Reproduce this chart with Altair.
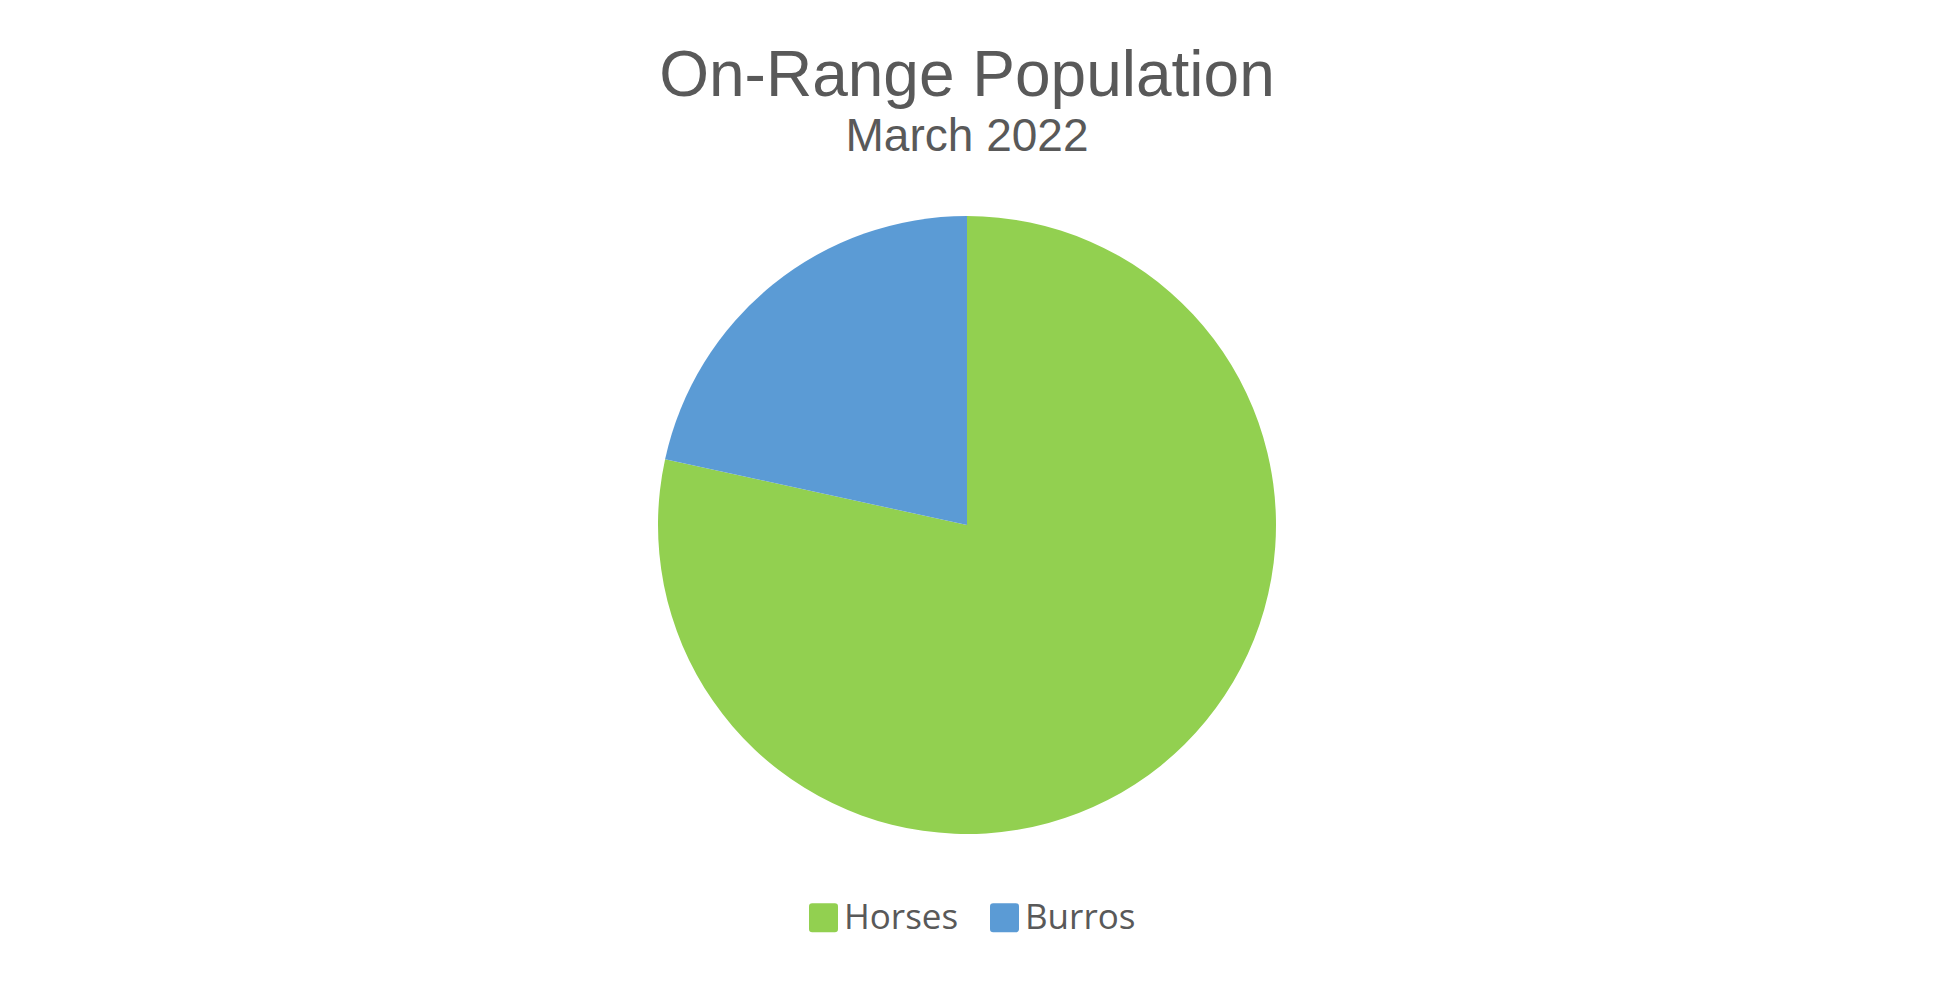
import altair as alt
import pandas as pd

categories = ["Horses", "Burros"]
values = [64604, 17780]
colors = ["#92D050", "#5B9BD5"]

df = pd.DataFrame({"category": categories, "value": values})

rounded_square = ("M -0.78 -1 L 0.78 -1 Q 1 -1 1 -0.78 L 1 0.78 Q 1 1 0.78 1 "
                  "L -0.78 1 Q -1 1 -1 0.78 L -1 -0.78 Q -1 -1 -0.78 -1 Z")

chart = (
    alt.Chart(df)
    .transform_calculate(ord="indexof(['Horses','Burros'], datum.category)")
    .mark_arc(outerRadius=309)
    .encode(
        theta=alt.Theta("value:Q", stack=True),
        order=alt.Order("ord:Q", sort="ascending"),
        color=alt.Color(
            "category:N",
            scale=alt.Scale(domain=categories, range=colors),
            legend=alt.Legend(
                title=None,
                orient="none",
                legendX=790,
                legendY=684,
                direction="horizontal",
                symbolType=rounded_square,
                symbolSize=841,
                symbolStrokeWidth=0,
                labelFont="Open Sans",
                labelFontSize=35,
                labelColor="#595959",
                labelOffset=3,
                columnPadding=28,
            ),
        ),
    )
    .properties(
        width=1902,
        height=618,
        padding={"left": 8, "right": 0, "top": 37, "bottom": 20},
        title=alt.TitleParams(
            text="On-Range Population",
            subtitle="March 2022",
            font="Liberation Sans",
            fontSize=64,
            fontWeight="normal",
            color="#595959",
            subtitleFont="Liberation Sans",
            subtitleFontSize=46,
            subtitleColor="#595959",
            subtitlePadding=6,
            offset=56,
            anchor="middle",
        ),
    )
    .configure_view(stroke=None)
)

chart.save("out.html", embed_options={"renderer": "svg", "actions": False})
